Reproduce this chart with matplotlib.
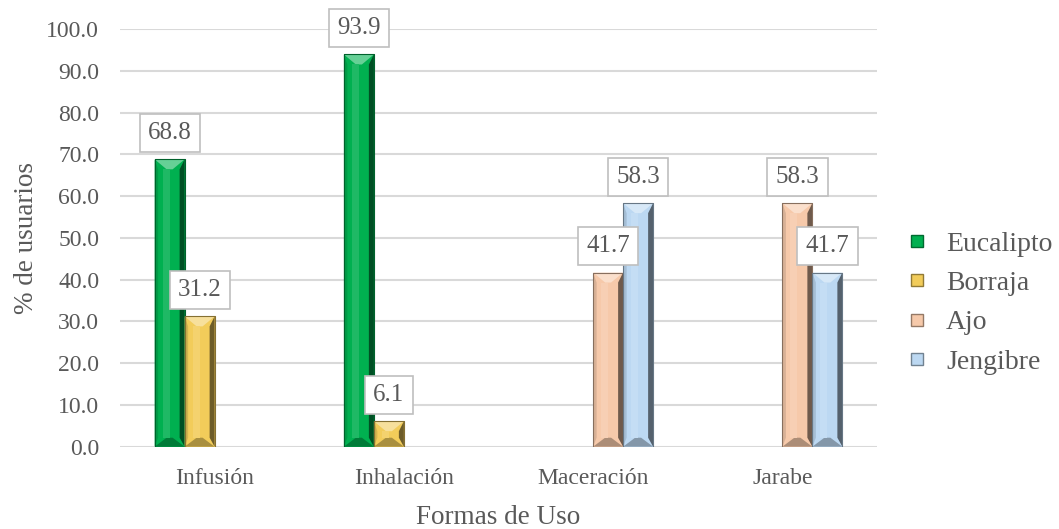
import matplotlib
matplotlib.use("Agg")
import matplotlib.pyplot as plt
from matplotlib.patches import Polygon
from matplotlib.lines import Line2D
import matplotlib.colors as mcolors
import numpy as np

categories = ["Infusión", "Inhalación", "Maceración", "Jarabe"]
series_names = ["Eucalipto", "Borraja", "Ajo", "Jengibre"]
values = {
    "Eucalipto": [68.8, 93.9, None, None],
    "Borraja": [31.2, 6.1, None, None],
    "Ajo": [None, None, 41.7, 58.3],
    "Jengibre": [None, None, 58.3, 41.7],
}
colors = {
    "Eucalipto": "#00b050",
    "Borraja": "#f2cc5a",
    "Ajo": "#f6c9aa",
    "Jengibre": "#bcd8f2",
}
y_ticks = np.arange(0, 101, 10)

plt.rcParams["font.family"] = ["Liberation Serif", "DejaVu Serif"]
text_color = "#595959"

fig = plt.figure(figsize=(10.59, 5.29), dpi=100)
ax = fig.add_axes([120 / 1059, 1 - 446.7 / 529, 757 / 1059, (446.7 - 29) / 529])
ax.set_xlim(-0.5, len(categories) - 0.5)
ax.set_ylim(0, 100)

bar_w = 30 / 189.25
offsets = {"Eucalipto": -2, "Borraja": -1, "Ajo": 0, "Jengibre": 1}


def shade(c, f):
    r, g, b = mcolors.to_rgb(c)
    if f >= 0:
        return (r + (1 - r) * f, g + (1 - g) * f, b + (1 - b) * f)
    return (r * (1 + f), g * (1 + f), b * (1 + f))


# size of one pixel in data units
px_x = len(categories) / 757
px_y = 100 / (446.7 - 29)

x = np.arange(len(categories))
for name in series_names:
    for i, v in enumerate(values[name]):
        if v is None:
            continue
        left = x[i] + offsets[name] * bar_w
        base = colors[name]
        bars = ax.bar(left, v, width=bar_w, align="edge", color=base,
                      edgecolor="none", zorder=3)
        b = bars[0]
        x0, x1 = b.get_x(), b.get_x() + b.get_width()
        xm = (x0 + x1) / 2
        y0, y1 = 0, b.get_height()
        dx = 5 * px_x
        dy = min(10 * px_y, (y1 - y0) / 2)
        dyb = min(9 * px_y, (y1 - y0) / 2)
        polys = [
            # left face, right face, top and bottom bevels
            ([(x0, y0), (x0 + dx * 0.7, y0 + dyb), (x0 + dx * 0.7, y1 - dy), (x0, y1)], shade(base, -0.12)),
            ([(x1, y0), (x1 - dx, y0 + dyb), (x1 - dx, y1 - dy), (x1, y1)], shade(base, -0.55)),
            ([(x0, y1), (x1, y1), (xm + dx * 0.6, y1 - dy), (xm - dx * 0.6, y1 - dy)], shade(base, 0.4)),
            ([(x0, y0), (x1, y0), (xm + dx * 0.6, y0 + dyb), (xm - dx * 0.6, y0 + dyb)], shade(base, -0.3)),
        ]
        for pts, col in polys:
            ax.add_patch(Polygon(pts, closed=True, facecolor=col, edgecolor="none", zorder=4))
        # soft highlight down the face
        ax.add_patch(Polygon([(x0 + dx * 1.6, y0 + dyb), (xm, y0 + dyb), (xm, y1 - dy), (x0 + dx * 1.6, y1 - dy)],
                             closed=True, facecolor=shade(base, 0.12), edgecolor="none", zorder=4))
        ax.plot([x0, x0, x1, x1], [y0, y1, y1, y0], color=shade(base, -0.45), lw=0.8, zorder=5)
        ax.annotate(f"{v:.1f}", (x0 + bar_w / 2, v), xytext=(0, 11), textcoords="offset points",
                    ha="center", va="bottom", fontsize=18, color=text_color, zorder=6,
                    bbox=dict(boxstyle="square,pad=0.33", facecolor="white", edgecolor="#bfbfbf", lw=1.2))

ax.set_yticks(y_ticks)
ax.set_yticklabels([f"{t:.1f}" for t in y_ticks])
ax.set_xticks(x)
ax.set_xticklabels(categories)
ax.yaxis.grid(True, color="#d9d9d9", lw=1.5, zorder=0)
ax.set_axisbelow(True)
for s in ax.spines.values():
    s.set_visible(False)
ax.tick_params(axis="both", length=0, labelsize=17, colors=text_color)
ax.tick_params(axis="y", pad=15)
ax.tick_params(axis="x", pad=15)
ax.set_xlabel("Formas de Uso", fontsize=19.5, color=text_color, labelpad=12)
ax.set_ylabel("% de usuarios", fontsize=19.5, color=text_color, labelpad=5)

handles = [Line2D([], [], marker="s", linestyle="none", markersize=8.5,
                  markerfacecolor=colors[n], markeredgecolor=shade(colors[n], -0.4))
           for n in series_names]
fig.legend(handles, series_names, loc="center left", bbox_to_anchor=(903 / 1059, 1 - 303 / 529),
           frameon=False, fontsize=20, labelcolor=text_color, handlelength=1.0, handletextpad=0.55,
           labelspacing=0.5, borderaxespad=0, borderpad=0)

fig.savefig("out.png", dpi=100)
